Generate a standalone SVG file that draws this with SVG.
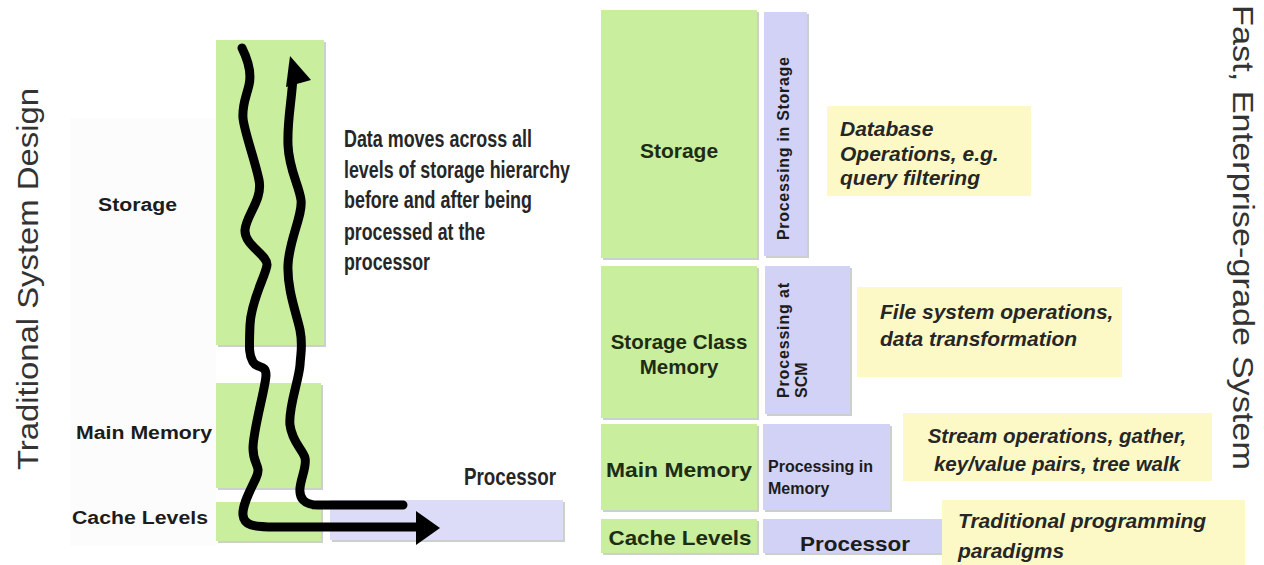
<svg xmlns="http://www.w3.org/2000/svg" width="1264" height="565" viewBox="0 0 1264 565">
<style>
.g{fill:#c8ee9e}
.p{fill:#d2d2f6}
.y{fill:#fcf9c6}
.sh{fill:#8e9690;opacity:.45}
.t{font-family:"Liberation Sans",Arial,sans-serif;font-weight:bold;fill:#1c1c1c}
.tg{font-family:"Liberation Sans",Arial,sans-serif;font-weight:bold;fill:#1e2c14}
.ti{font-family:"Liberation Sans",Arial,sans-serif;font-weight:bold;font-style:italic;fill:#262626;font-size:21px}
.n{font-family:"Liberation Sans Narrow","Liberation Sans",Arial,sans-serif;font-weight:bold;fill:#262626}
.big{font-family:"Liberation Sans",Arial,sans-serif;font-size:30px;fill:#333}
.wave{fill:none;stroke:#000;stroke-width:9;stroke-linecap:round;stroke-linejoin:round}
</style>
<rect width="1264" height="565" fill="#fff"/>

<!-- left panel -->
<g id="title-left"><text class="big" transform="translate(38,470) rotate(-90)" textLength="382" lengthAdjust="spacingAndGlyphs">Traditional System Design</text></g>
<rect x="70" y="118" width="146" height="428" fill="#fcfcfc"/>

<g id="l-storage">
<rect class="sh" x="218" y="42" width="108" height="305"/>
<rect class="g" x="216" y="40" width="108" height="305"/>
<text class="t" x="98" y="211" font-size="18" textLength="79" lengthAdjust="spacingAndGlyphs">Storage</text>
</g>
<g id="l-main">
<rect class="sh" x="218" y="385" width="105" height="105"/>
<rect class="g" x="216" y="383" width="105" height="105"/>
<text class="t" x="76" y="439" font-size="18" textLength="136" lengthAdjust="spacingAndGlyphs">Main Memory</text>
</g>
<g id="l-cache">
<rect class="sh" x="218" y="504" width="105" height="39"/>
<rect class="g" x="216" y="502" width="105" height="39"/>
<text class="t" x="72" y="524" font-size="18" textLength="136" lengthAdjust="spacingAndGlyphs">Cache Levels</text>
</g>
<g id="l-processor">
<rect class="sh" x="332" y="502" width="233" height="40"/>
<rect x="330" y="500" width="233" height="40" fill="#dcdcf8"/>
<text class="n" x="464" y="485" font-size="24" textLength="92" lengthAdjust="spacingAndGlyphs">Processor</text>
</g>
<g id="l-note">
<text class="n" font-size="23">
<tspan x="344" y="147" textLength="188" lengthAdjust="spacingAndGlyphs">Data moves across all</tspan>
<tspan x="344" y="178" textLength="226" lengthAdjust="spacingAndGlyphs">levels of storage hierarchy</tspan>
<tspan x="344" y="208" textLength="188" lengthAdjust="spacingAndGlyphs">before and after being</tspan>
<tspan x="344" y="240" textLength="141" lengthAdjust="spacingAndGlyphs">processed at the</tspan>
<tspan x="344" y="270" textLength="86" lengthAdjust="spacingAndGlyphs">processor</tspan>
</text>
</g>

<g id="connectors">
<path class="wave" d="M242,48 C248,60 252,72 249,85 S242,105 243,118 S255,160 259,180 S246,215 245,230 S268,255 267,265 S251,300 250,325 S249,355 253,362 S266,364 266,375 S253,430 253,448 S262,465 256,478 S242,505 243,515 S252,527 275,527 L420,527"/>
<polygon points="416,511 440,528 416,545" fill="#000"/>
<path class="wave" d="M403,505 L318,505 C304,505 299,498 300,488 S307,466 305,458 S292,442 290,425 S299,380 300,365 S303,345 300,330 S287,290 288,265 S303,215 301,200 S289,170 288,145 S292,100 293,76"/>
<polygon points="290,56 311,80 286,87" fill="#000"/>
</g>

<!-- right panel -->
<g id="r-storage">
<rect class="sh" x="603" y="12" width="156" height="248"/>
<rect class="g" x="601" y="10" width="156" height="248"/>
<text class="tg" x="679" y="158" font-size="21" text-anchor="middle">Storage</text>
</g>
<g id="r-pis">
<rect class="sh" x="766" y="14" width="43" height="244"/>
<rect class="p" x="764" y="12" width="43" height="244"/>
<text class="t" transform="translate(789,240) rotate(-90)" font-size="16" textLength="183" lengthAdjust="spacing" fill="#2a2a40">Processing in Storage</text>
</g>
<g id="r-db">
<rect class="y" x="827" y="106" width="204" height="90"/>
<text class="ti"><tspan x="840" y="136">Database</tspan><tspan x="840" y="161">Operations, e.g.</tspan><tspan x="840" y="185">query filtering</tspan></text>
</g>

<g id="r-scm">
<rect class="sh" x="603" y="268" width="156" height="152"/>
<rect class="g" x="601" y="266" width="156" height="152"/>
<text class="tg" font-size="20.5" text-anchor="middle"><tspan x="679" y="349">Storage Class</tspan><tspan x="679" y="374">Memory</tspan></text>
</g>
<g id="r-pscm">
<rect class="sh" x="767" y="268" width="85" height="148"/>
<rect class="p" x="765" y="266" width="85" height="148"/>
<text class="t" font-size="16" fill="#2a2a40" transform="translate(789,398) rotate(-90)"><tspan x="0" y="0" textLength="115" lengthAdjust="spacing">Processing at</tspan><tspan x="0" y="18">SCM</tspan></text>
</g>
<g id="r-fs">
<rect class="y" x="857" y="287" width="265" height="90"/>
<text class="ti" font-size="20.5"><tspan x="880" y="319">File system operations,</tspan><tspan x="880" y="346">data transformation</tspan></text>
</g>

<g id="r-main">
<rect class="sh" x="603" y="426" width="156" height="86"/>
<rect class="g" x="601" y="424" width="156" height="86"/>
<text class="tg" x="679" y="477" font-size="21" text-anchor="middle" textLength="146" lengthAdjust="spacingAndGlyphs">Main Memory</text>
</g>
<g id="r-pim">
<rect class="sh" x="765" y="426" width="127" height="86"/>
<rect class="p" x="763" y="424" width="127" height="86"/>
<text class="t" font-size="16" fill="#2a2a40"><tspan x="768" y="472">Processing in</tspan><tspan x="768" y="494">Memory</tspan></text>
</g>
<g id="r-stream">
<rect class="y" x="903" y="413" width="309" height="68"/>
<text class="ti" text-anchor="middle" style="font-size:20.5px"><tspan x="1057" y="443">Stream operations, gather,</tspan><tspan x="1057" y="471">key/value pairs, tree walk</tspan></text>
</g>

<g id="r-cache">
<rect class="sh" x="603" y="521" width="156" height="34"/>
<rect class="g" x="601" y="519" width="156" height="34"/>
<text class="tg" x="680" y="545" font-size="21" text-anchor="middle" textLength="143" lengthAdjust="spacingAndGlyphs">Cache Levels</text>
</g>
<g id="r-proc">
<rect class="sh" x="765" y="521" width="182" height="34"/>
<rect class="p" x="763" y="519" width="182" height="34"/>
<text class="t" x="800" y="551" font-size="21" fill="#22223a" textLength="110" lengthAdjust="spacingAndGlyphs">Processor</text>
</g>
<g id="r-trad">
<rect class="y" x="942" y="500" width="303" height="65"/>
<text class="ti"><tspan x="958" y="528">Traditional programming</tspan><tspan x="958" y="558">paradigms</tspan></text>
</g>

<g id="title-right"><text class="big" transform="translate(1233,5) rotate(90)" textLength="465" lengthAdjust="spacingAndGlyphs">Fast, Enterprise-grade System</text></g>
</svg>
